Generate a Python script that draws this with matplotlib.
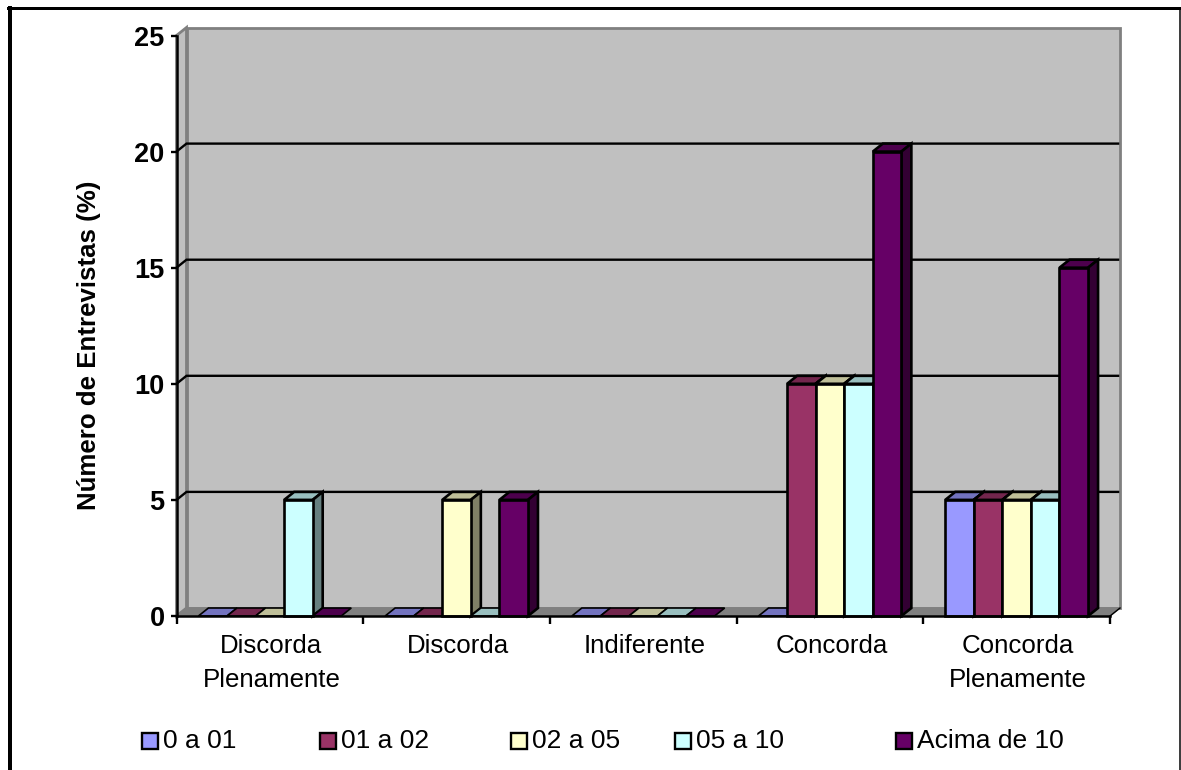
import matplotlib
matplotlib.use('Agg')
import matplotlib.pyplot as plt
from matplotlib.colors import to_rgb
from matplotlib.lines import Line2D
from matplotlib.patches import Polygon, Rectangle
from matplotlib.transforms import ScaledTranslation

categories = ['Discorda\nPlenamente', 'Discorda', 'Indiferente', 'Concorda', 'Concorda\nPlenamente']
series_names = ['0 a 01', '01 a 02', '02 a 05', '05 a 10', 'Acima de 10']
series_colors = ['#9999FF', '#993366', '#FFFFCC', '#CCFFFF', '#660066']
v_0_01 = [0, 0, 0, 0, 5]
v_01_02 = [0, 0, 0, 10, 5]
v_02_05 = [0, 5, 0, 10, 5]
v_05_10 = [5, 0, 0, 10, 5]
v_acima = [0, 5, 0, 20, 15]
y_ticks = [0, 5, 10, 15, 20, 25]
y_label = 'Número de Entrevistas (%)'

W, H = 1181, 770
plt.rcParams['font.family'] = ['Liberation Sans', 'DejaVu Sans']


def shade(color, k):
    return tuple(c * k for c in to_rgb(color))


fig = plt.figure(figsize=(W / 100, H / 100), dpi=100)
ax = fig.add_axes([176.5 / W, (H - 616) / H, 933.5 / W, 580.5 / H])
ax.set_xlim(0, len(categories))
ax.set_ylim(0, 25)

# profundidade do 3D em unidades dos dados
dx = 10 / (933.5 / len(categories))
dy = 8 / (580.5 / 25)
n = len(categories)
black = 1.9


def poly(points, face, edge='black', lw=black, z=3):
    ax.add_patch(Polygon(points, closed=True, facecolor=face, edgecolor=edge,
                         linewidth=lw, zorder=z, clip_on=False, joinstyle='miter'))


# paredes e piso
poly([(dx, dy), (n + dx, dy), (n + dx, 25 + dy), (dx, 25 + dy)], '#C0C0C0', '#808080', 2, 1)
poly([(0, 0), (dx, dy), (dx, 25 + dy), (0, 25)], '#C0C0C0', '#808080', 2, 1)
poly([(0, 0), (n, 0), (n + dx, dy), (dx, dy)], '#808080', '#808080', 1, 1.5)
ax.plot([n, n + dx], [0, dy], color='black', lw=1, zorder=1.6, clip_on=False)

for t in y_ticks[1:-1]:
    ax.plot([0, dx, n + dx - 0.004], [t, t + dy, t + dy], color='black', lw=1.7, zorder=2,
            clip_on=False, solid_joinstyle='miter', solid_capstyle='butt')

# barras
all_values = [v_0_01, v_01_02, v_02_05, v_05_10, v_acima]
bar_w = 0.153
start = (1 - bar_w * len(all_values)) / 2
z = 3.0
for i in range(n):
    for j, values in enumerate(all_values):
        color = series_colors[j]
        val = values[i]
        x0 = i + start + j * bar_w
        x1 = x0 + bar_w
        z += 0.01
        poly([(x0, val), (x1, val), (x1 + dx, val + dy), (x0 + dx, val + dy)], shade(color, 0.75),
             lw=black if val > 0 else 1.2, z=z)
        if val > 0:
            poly([(x1, 0), (x1 + dx, dy), (x1 + dx, val + dy), (x1, val)], shade(color, 0.5), z=z)
            ax.bar(x0, val, bar_w, align='edge', color=color, edgecolor='black',
                   linewidth=black, zorder=z + 0.001, clip_on=False)

for s in ['top', 'right']:
    ax.spines[s].set_visible(False)
for s in ['left', 'bottom']:
    ax.spines[s].set_linewidth(1.8)
    ax.spines[s].set_zorder(10)

ax.set_yticks(y_ticks)
ax.set_yticklabels([str(t) for t in y_ticks], fontsize=19.5, fontweight='bold')
ax.tick_params(axis='y', length=4.5, width=1.7, pad=4)
ax.set_xticks(range(n + 1))
ax.set_xticklabels([])
ax.tick_params(axis='x', length=6, width=1.7)
ax.set_xticks([i + 0.5 for i in range(n)], minor=True)
ax.set_xticklabels(categories, minor=True, fontsize=18.6, linespacing=1.5)
ax.tick_params(axis='x', which='minor', length=0, pad=13)
shift = ScaledTranslation(1.5 / 100, 0, fig.dpi_scale_trans)
for label in ax.get_xticklabels(minor=True):
    label.set_transform(label.get_transform() + shift)
fig.text(89 / W, 1 - 345 / H, y_label, rotation=90, ha='center', va='center',
         fontsize=18.6, fontweight='bold')

# legenda
swatch_x = [142, 320, 511, 675, 896]
for name, color, sx in zip(series_names, series_colors, swatch_x):
    fig.add_artist(Rectangle((sx / W, 1 - 749 / H), 16 / W, 16 / H, transform=fig.transFigure,
                             facecolor=color, edgecolor='black', linewidth=1.7))
    fig.text((sx + 21) / W, 1 - 741 / H, name, ha='left', va='center', fontsize=19)

# moldura
frame = [([10 / W, 10 / W], [0, 1 - 7.5 / H], 4),
         ([8 / W, 1180.5 / W], [1 - 7.5 / H, 1 - 7.5 / H], 3),
         ([1180 / W, 1180 / W], [0, 1 - 7.5 / H], 1.5)]
for xs, ys, w in frame:
    fig.add_artist(Line2D(xs, ys, color='black', linewidth=w * 0.72, transform=fig.transFigure))

fig.savefig('out.png', dpi=100)
